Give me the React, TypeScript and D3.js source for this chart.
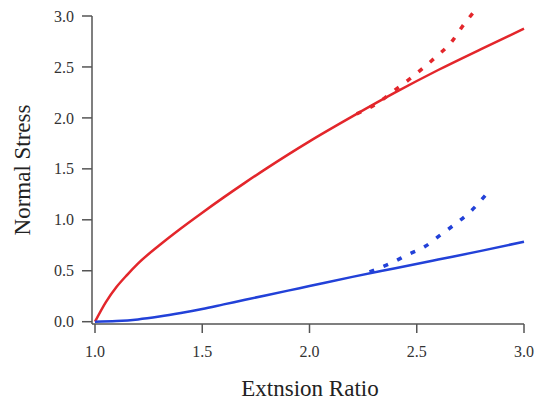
import React from "react";
import * as d3 from "d3";

const redSolidX = [1.0, 1.05, 1.1, 1.15, 1.2, 1.3, 1.4, 1.5, 1.6, 1.7, 1.8, 1.9, 2.0, 2.2, 2.4, 2.6, 2.8, 3.0];
const redSolidY = [0, 0.19, 0.34, 0.46, 0.57, 0.75, 0.915, 1.07, 1.22, 1.365, 1.505, 1.64, 1.77, 2.015, 2.25, 2.47, 2.675, 2.875];
const blueSolidX = [1.0, 1.1, 1.2, 1.3, 1.4, 1.5, 1.6, 1.7, 1.8, 1.9, 2.0, 2.2, 2.4, 2.6, 2.8, 3.0];
const blueSolidY = [0, 0.006, 0.022, 0.05, 0.085, 0.125, 0.17, 0.215, 0.26, 0.305, 0.35, 0.44, 0.525, 0.61, 0.695, 0.785];
const redDashX = [2.22, 2.32, 2.39, 2.46, 2.53, 2.59, 2.66, 2.71, 2.77];
const redDashY = [2.04, 2.15, 2.26, 2.37, 2.49, 2.6, 2.74, 2.89, 3.05];
const blueDashX = [2.28, 2.385, 2.46, 2.54, 2.61, 2.68, 2.75, 2.82];
const blueDashY = [0.49, 0.58, 0.66, 0.74, 0.85, 0.96, 1.08, 1.24];
const xTicks = [1.0, 1.5, 2.0, 2.5, 3.0];
const yTicks = [0, 0.5, 1.0, 1.5, 2.0, 2.5, 3.0];

const RED = "#e3262b";
const BLUE = "#2241d8";
const AXIS = "#555";
const FONT = '"Liberation Serif", "Times New Roman", serif';

export default function App() {
  const W = 537, H = 402;
  const x = d3.scaleLinear().domain([1, 3]).range([95, 524]);
  const y = d3.scaleLinear().domain([0, 3]).range([321.7, 16]);
  const axisX = 92, axisY = 324;
  const zip = (xs: number[], ys: number[]) => xs.map((v, i) => [v, ys[i]] as [number, number]);
  const line = d3.line<[number, number]>().x(d => x(d[0])).y(d => y(d[1])).curve(d3.curveMonotoneX);
  const ts = { fontFamily: FONT };

  return (
    <svg width={W} height={H} style={{ position: "absolute", left: 0, top: 0, background: "#fff" }}>
      {/* axes */}
      <line x1={axisX} x2={axisX} y1={y(3)} y2={axisY} stroke={AXIS} strokeWidth={1.5} />
      <line x1={axisX} x2={x(3)} y1={axisY} y2={axisY} stroke={AXIS} strokeWidth={1.5} />
      {yTicks.map(t => (
        <g key={"y" + t}>
          <line x1={axisX - 10} x2={axisX} y1={y(t)} y2={y(t)} stroke={AXIS} strokeWidth={1.5} />
          <text x={74} y={y(t)} dy="0.35em" textAnchor="end" fontSize={16} fill="#333" style={ts}>{t.toFixed(1)}</text>
        </g>
      ))}
      {xTicks.map(t => (
        <g key={"x" + t}>
          <line x1={x(t)} x2={x(t)} y1={axisY} y2={axisY + 9} stroke={AXIS} strokeWidth={1.5} />
          <text x={x(t)} y={357} textAnchor="middle" fontSize={16} fill="#333" style={ts}>{t.toFixed(1)}</text>
        </g>
      ))}
      <text x={310} y={396} textAnchor="middle" fontSize={23} fill="#222" style={ts}>Extnsion Ratio</text>
      <text transform={`translate(30,170) rotate(-90)`} textAnchor="middle" fontSize={23} fill="#222" style={ts}>Normal Stress</text>

      {/* curves */}
      <path d={line(zip(redSolidX, redSolidY)) || ""} fill="none" stroke={RED} strokeWidth={2.5} />
      <path d={line(zip(blueSolidX, blueSolidY)) || ""} fill="none" stroke={BLUE} strokeWidth={2.5} />
      <path d={line(zip(redDashX, redDashY)) || ""} fill="none" stroke={RED} strokeWidth={3.5} strokeDasharray="5 10" />
      <path d={line(zip(blueDashX, blueDashY)) || ""} fill="none" stroke={BLUE} strokeWidth={3.5} strokeDasharray="5 10" />
    </svg>
  );
}
